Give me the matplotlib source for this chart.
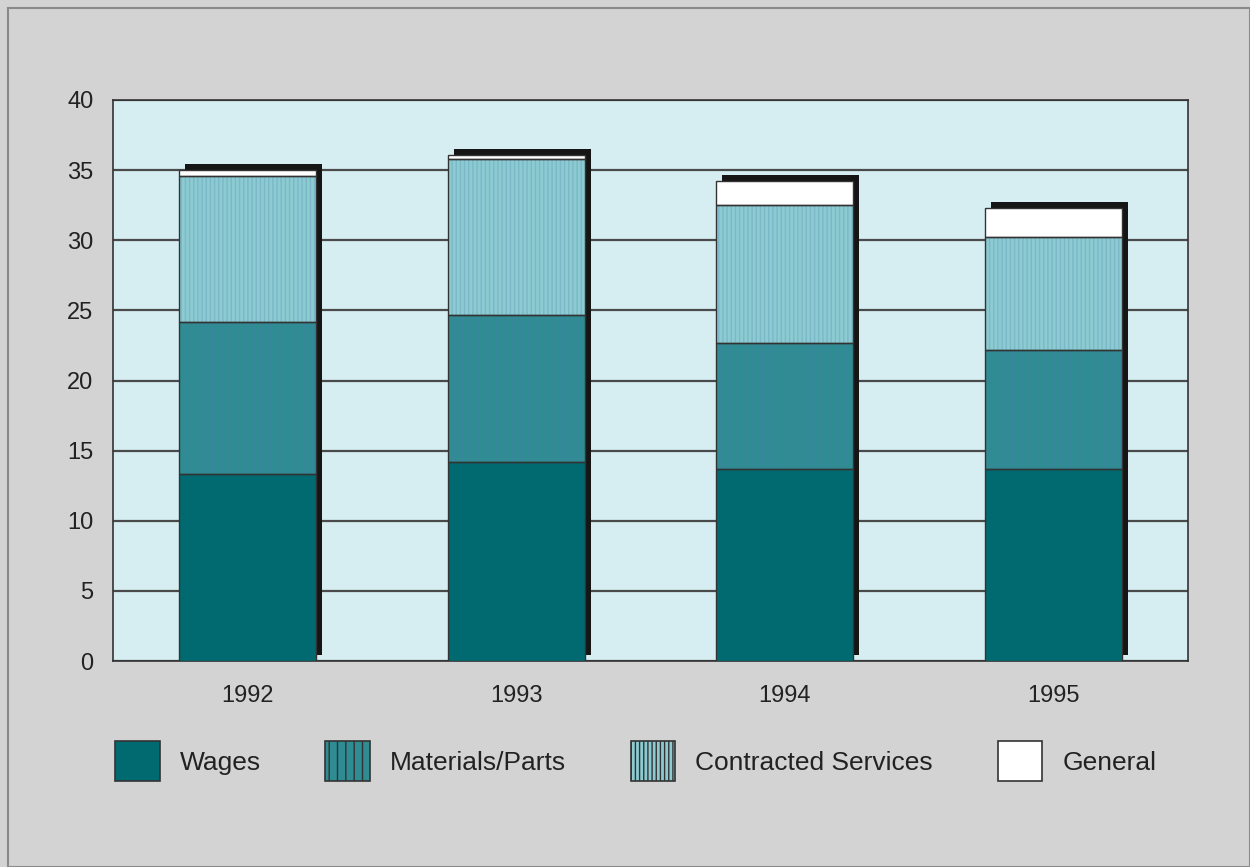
import matplotlib
matplotlib.use("Agg")
import matplotlib.pyplot as plt
import numpy as np
from matplotlib.patches import Patch, Rectangle
from matplotlib.transforms import ScaledTranslation

years = ["1992", "1993", "1994", "1995"]
wages = [13.3, 14.2, 13.7, 13.7]
materials = [10.9, 10.5, 9.0, 8.5]
contracted = [10.4, 11.1, 9.8, 8.0]
general = [0.4, 0.3, 1.7, 2.1]

series = [
    ("Wages", wages, "#006a70", None, "#006a70"),
    ("Materials/Parts", materials, "#2f8c93", "||", "#3b84a0"),
    ("Contracted Services", contracted, "#8ccbd2", "||||", "#7cb8c8"),
    ("General", general, "#ffffff", None, "#ffffff"),
]

plt.rcParams["font.family"] = ["Liberation Sans", "DejaVu Sans"]
plt.rcParams["hatch.linewidth"] = 1.0

fig = plt.figure(figsize=(12.5, 8.67), dpi=100, facecolor="#d3d3d3")
ax = fig.add_axes([113 / 1250, 1 - 661 / 867, 1075 / 1250, 561 / 867])
ax.set_facecolor("#d6eef2")

x = np.arange(len(years))
width = 0.51
totals = np.sum([wages, materials, contracted, general], axis=0)

# drop shadow behind the stacks
shadow = ScaledTranslation(6 / 100, 6 / 100, fig.dpi_scale_trans)
ax.bar(x, totals, width, color="#151515", zorder=2,
       transform=ax.transData + shadow)

bottom = np.zeros(len(years))
handles = []
for name, vals, color, hatch, hcol in series:
    ax.bar(x, vals, width, bottom=bottom, color=color, hatch=hatch,
           edgecolor=hcol, linewidth=0, zorder=3)
    ax.bar(x, vals, width, bottom=bottom, fill=False,
           edgecolor="#333333", linewidth=1.0, zorder=4)
    handles.append(Patch(facecolor=color, hatch=hatch, edgecolor="#333333",
                         linewidth=1.2))
    bottom += np.array(vals)

ax.set_xlim(-0.5, 3.5)
ax.set_ylim(0, 40)
ax.set_yticks(range(0, 41, 5))
ax.set_xticks(x)
ax.set_xticklabels(years)
ax.yaxis.grid(True, color="#4a4a4a", linewidth=1.6)
ax.set_axisbelow(True)
ax.tick_params(length=0, labelsize=17, colors="#222222")
ax.tick_params(axis="y", pad=14)
ax.tick_params(axis="x", pad=17)
for s in ax.spines.values():
    s.set_color("#333333")
    s.set_linewidth(1.2)

fig.legend(handles, [s[0] for s in series], loc="lower left",
           bbox_to_anchor=(91 / 1250, 1 - 805 / 867), ncol=4, frameon=False,
           fontsize=19, handlelength=1.7, handleheight=1.95, handletextpad=0.75,
           columnspacing=2.45, labelcolor="#222222")

fig.add_artist(Rectangle((0.006, 0.0), 0.994, 0.991, transform=fig.transFigure,
                         fill=False, edgecolor="#8a8a8a", linewidth=1.5))

fig.savefig("out.png", dpi=100, facecolor=fig.get_facecolor())
